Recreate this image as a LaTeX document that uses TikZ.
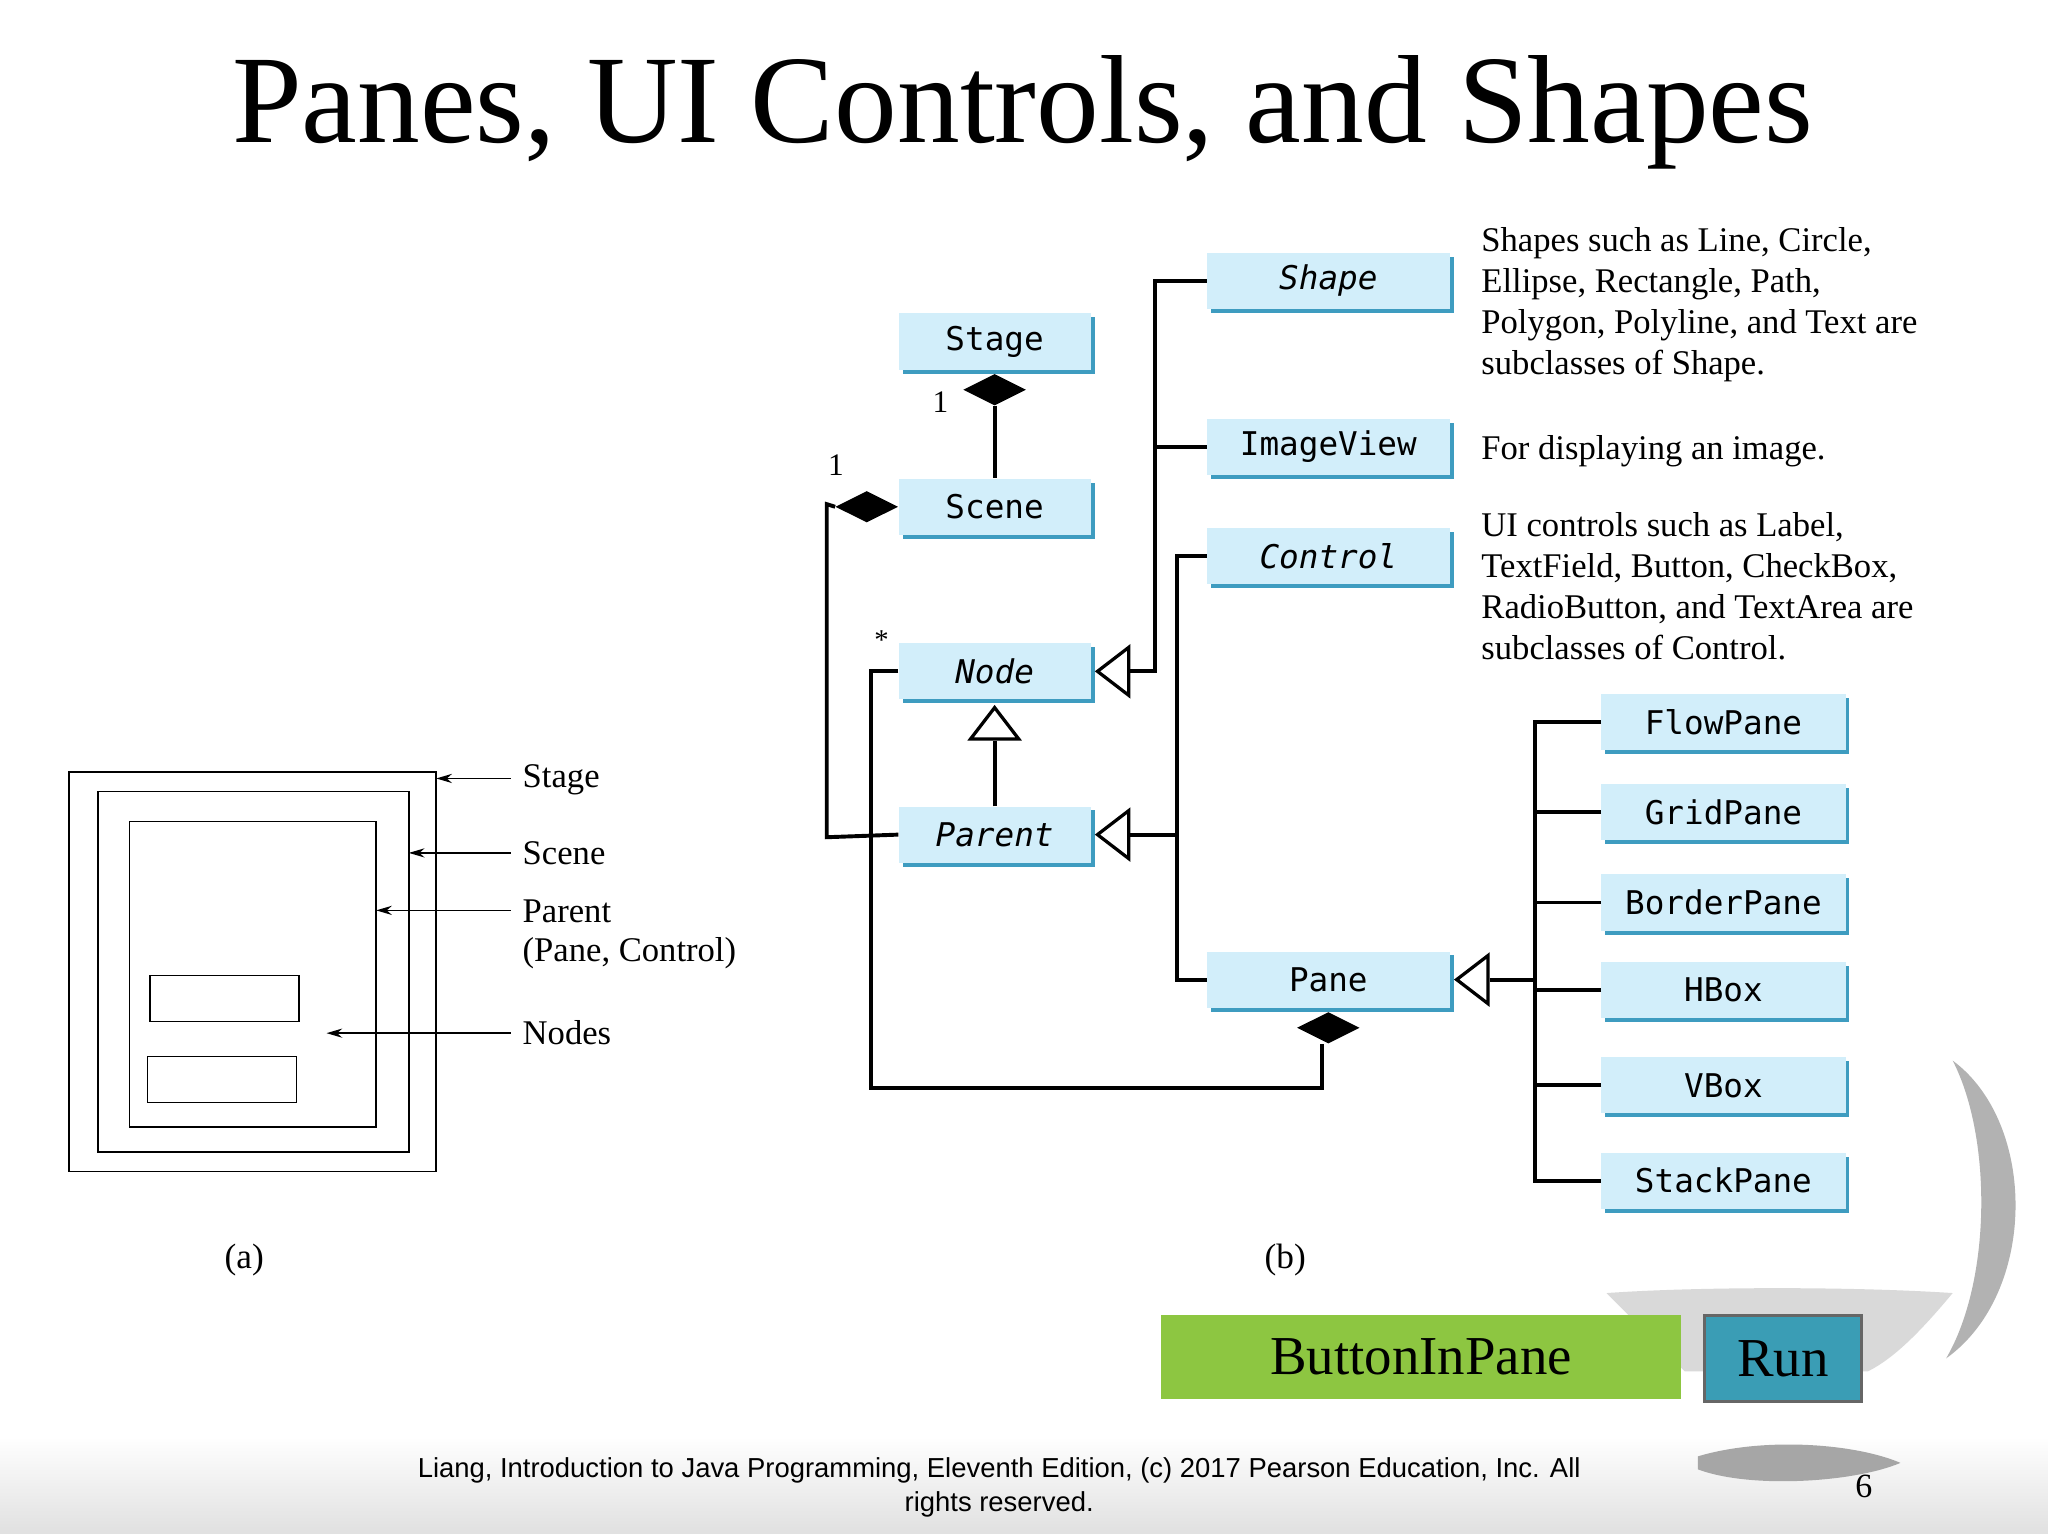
\documentclass[tikz,border=0pt]{standalone}
\usepackage{fontspec}
\setmainfont{Liberation Serif}
\newfontfamily\monof{DejaVu Sans Mono}
\newfontfamily\sansf{Liberation Sans}
\usetikzlibrary{shadows,shapes.geometric,arrows.meta}
\definecolor{boxfill}{HTML}{D2EEFA}
\definecolor{boxsh}{HTML}{3E9CC0}
\definecolor{btngreen}{HTML}{8DC641}
\definecolor{btnteal}{HTML}{3A9DB5}
\begin{document}
\begin{tikzpicture}[x=1pt,y=-1pt,
 cls/.style={draw=none,fill=boxfill,minimum height=43pt,inner sep=0pt,
   font=\monof\fontsize{25}{28}\selectfont,
   drop shadow={shadow xshift=3pt,shadow yshift=-3pt,fill=boxsh,opacity=1}},
 sm/.style={cls,minimum width=147pt},
 md/.style={cls,minimum width=186pt},
 ln/.style={line width=3pt,black},
 tri/.style={isosceles triangle,draw,line width=2.5pt,fill=white,isosceles triangle apex angle=75,minimum height=24pt,inner sep=0pt},
 dia/.style={diamond,fill=black,minimum width=48pt,minimum height=24pt,inner sep=0pt},
 note/.style={font=\fontsize{26.5}{31.5}\selectfont,anchor=north west,align=left,inner sep=0pt},
 lab/.style={font=\fontsize{26.5}{30}\selectfont,anchor=west,inner sep=0pt},
 thin/.style={line width=1.2pt,-{Stealth[length=12pt,width=7pt]}}]
\useasboundingbox (0,0) rectangle (1568,1174);
\fill[white] (0,0) rectangle (1568,1174);
% footer band
\shade[top color=white,bottom color=black!12] (0,1100) rectangle (1568,1174);
% decorative globe
\fill[black!30] (1495,812) .. controls (1560,860) and (1560,990) .. (1490,1040) .. controls (1525,980) and (1525,870) .. (1495,812) -- cycle;
\fill[black!15] (1230,990) .. controls (1300,985) and (1420,985) .. (1495,990) .. controls (1470,1020) and (1450,1040) .. (1430,1050) -- (1290,1050) -- cycle;
\fill[black!35] (1300,1115) .. controls (1350,1100) and (1420,1105) .. (1455,1120) .. controls (1420,1135) and (1340,1140) .. (1300,1125) -- cycle;
% title
\node[font=\fontsize{96}{100}\selectfont] (title) at (783,86) {Panes, UI Controls, and Shapes};
% panel a
\draw[line width=1.2pt] (53,591) rectangle (334,897);
\draw[line width=1.2pt] (75,606) rectangle (313,882);
\draw[line width=1.2pt] (99,629) rectangle (288,863);
\draw[line width=1.2pt] (115,747) rectangle (229,782);
\draw[line width=1.2pt] (113,809) rectangle (227,844);
\node[lab] (lst) at (400,597) {Stage};
\node[lab] (lsc) at (400,653) {Scene};
\node[lab] (lpa) at (400,698) {Parent};
\node[lab] (lpc) at (400,730) {(Pane, Control)};
\node[lab] (lno) at (400,791) {Nodes};
\draw[thin] (391,596) -- (334,596);
\draw[thin] (391,653) -- (313,653);
\draw[thin] (391,697) -- (288,697);
\draw[thin] (391,791) -- (250,791);
\node[font=\fontsize{27}{30}\selectfont] (pa) at (187,965) {(a)};
\node[font=\fontsize{27}{30}\selectfont] (pb) at (984,965) {(b)};
% class boxes
\node[sm] (stage) at (761.5,261.5) {Stage};
\node[sm] (scene) at (761.5,388) {Scene};
\node[sm] (node) at (761.5,514) {\itshape Node};
\node[sm] (parent) at (761.5,639) {\itshape Parent};
\node[md] (shape) at (1017,215) {\itshape Shape};
\node[md] (image) at (1017,342) {ImageView};
\node[md] (control) at (1017,426) {\itshape Control};
\node[md] (pane) at (1017,750) {Pane};
\foreach \n/\t/\y in {flow/FlowPane/553,grid/GridPane/622,border/BorderPane/691,hbox/HBox/758,vbox/VBox/831,stack/StackPane/904}
  \node[md,minimum width=187pt] (\n) at (1319.5,\y) {\t};
% notes
\node[note] (n1) at (1134,174) {Shapes such as Line, Circle,\\Ellipse, Rectangle, Path,\\Polygon, Polyline, and Text are\\subclasses of Shape.};
\node[note] (n2) at (1134,333) {For displaying an image.};
\node[note] (n3) at (1134,392) {UI controls such as Label,\\TextField, Button, CheckBox,\\RadioButton, and TextArea are\\subclasses of Control.};
% inheritance
\node[tri,shape border rotate=180,anchor=apex] (tn) at ([xshift=3pt]node.east) {};
\node[tri,shape border rotate=180,anchor=apex] (tp) at ([xshift=3pt]parent.east) {};
\node[tri,shape border rotate=180,anchor=apex] (tpa) at ([xshift=3pt]pane.east) {};
\node[tri,shape border rotate=90,anchor=apex] (tpn) at ([yshift=-4pt]node.south) {};
\draw[ln] (shape.west) -- (884,215) -- (884,514) -- (tn.east);
\draw[ln] (image.west) -- (884,342);
\draw[ln] (control.west) -- (901,426) -- (901,750) -- (pane.west);
\draw[ln] (901,639) -- (tp.east);
\draw[ln] (parent.north) -- (parent.north |- tpn.left corner);
\draw[ln] (tpa.east) -- (1175,750);
\draw[ln] (flow.west) -- (1175,553) -- (1175,904) -- (stack.west);
\foreach \n in {grid,border,hbox,vbox} \draw[ln] (\n.west) -- (1175,0 |- \n.west);
% compositions
\node[dia,anchor=north] (d1) at ([yshift=-3pt]stage.south) {};
\draw[ln] (d1.south) -- (scene.north);
\node[font=\fontsize{24}{28}\selectfont] (one1) at (720,308) {1};
\node[dia,anchor=east] (d2) at (scene.west) {};
\draw[ln] (d2.west) -- (633,386) -- (633,641) -- (parent.west);
\node[font=\fontsize{24}{28}\selectfont] (one2) at (640,356) {1};
\node[dia,anchor=north] (d3) at ([yshift=-3pt]pane.south) {};
\draw[ln] (node.west) -- (667,514) -- (667,833) -- (1012,833) -- (1012,0 |- d3.south);
\node[font=\fontsize{22}{26}\selectfont] (star) at (675,490) {*};
% buttons
\node[fill=btngreen,minimum width=398pt,minimum height=64pt,font=\fontsize{42}{46}\selectfont,inner sep=0pt] (bip) at (1088,1039) {ButtonInPane};
\node[fill=btnteal,draw=black!60,line width=2pt,minimum width=120pt,minimum height=66pt,font=\fontsize{42}{46}\selectfont,inner sep=0pt] (run) at (1365,1040) {Run};
% footer
\node[font=\sansf\fontsize{21}{26}\selectfont,align=center] (foot) at (765,1139) {Liang, Introduction to Java Programming, Eleventh Edition, (c) 2017 Pearson Education, Inc. All\\rights reserved.};
\node[font=\fontsize{26}{30}\selectfont] (pg) at (1427,1138) {6};
\end{tikzpicture}
\end{document}
